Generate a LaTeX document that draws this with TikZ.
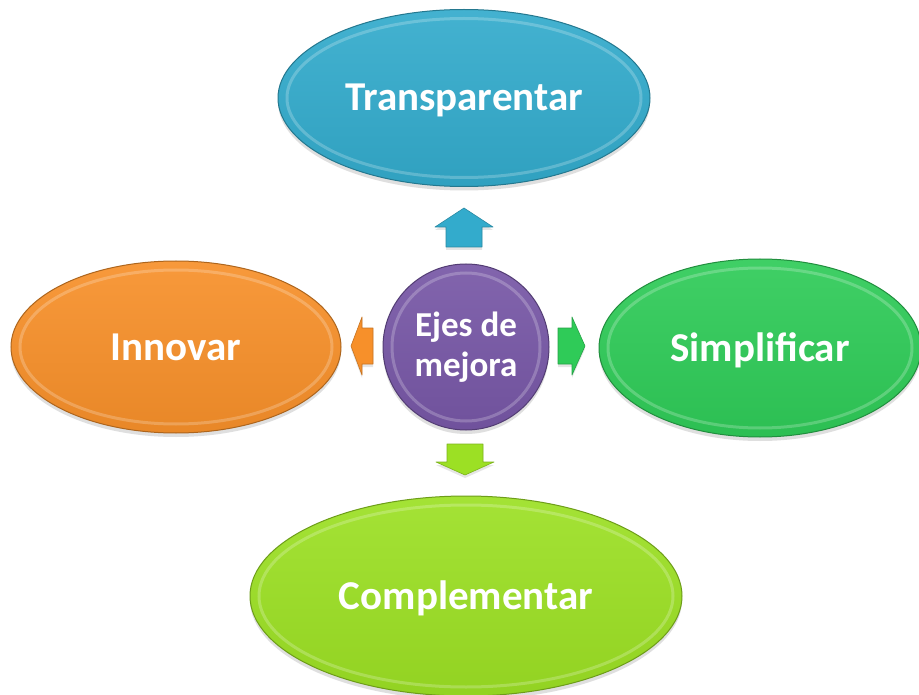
\documentclass[tikz,border=0pt]{standalone}
\usepackage{fontspec}
\setmainfont{Carlito}
\usetikzlibrary{shapes.geometric,shadows,calc}

\definecolor{azul}{HTML}{33ABCC}
\definecolor{naranja}{HTML}{F7902A}
\definecolor{verde}{HTML}{2FCB58}
\definecolor{lima}{HTML}{9CE024}
\definecolor{morado}{HTML}{7757A6}

% block arrow: x, y, angle, length, head length, colour
\newcommand{\flecha}[6]{\draw[#6!80!black, fill=#6, line width=0.6pt, line join=round,
        shift={(#1,#2)}, rotate=#3, drop shadow={opacity=0.2, shadow xshift=0pt, shadow yshift=-3pt}]
        (#4/2,0) -- (#4/2-#5,29) -- (#4/2-#5,18) -- (-#4/2,18) -- (-#4/2,-18)
        -- (#4/2-#5,-18) -- (#4/2-#5,-29) -- cycle;}

\tikzset{
  bevel/.style={path picture={
      \draw[white, opacity=0.22, line width=3pt]
        let \p1=(path picture bounding box.north east), \p2=(path picture bounding box.center)
        in (\p2) ellipse [x radius={\x1-\x2-9pt}, y radius={\y1-\y2-9pt}];}},
  eje/.style={ellipse, inner sep=0pt, line width=1pt, draw=#1!70!black,
      top color=#1!92!white, bottom color=#1!94!black, bevel, text=white,
      font=\bfseries\fontsize{41}{41}\selectfont, text height=26pt, text depth=0pt,
      drop shadow={opacity=0.25, shadow xshift=0pt, shadow yshift=-4pt}},
}

\begin{document}
\begin{tikzpicture}[x=1pt, y=-1pt]
    \fill[white] (0,0) rectangle (919,695);
    \useasboundingbox (0,0) rectangle (919,695);

    \node[eje=azul, minimum width=372pt, minimum height=177pt] (transp) at (464,98) {Transparentar};
    \node[eje=naranja, minimum width=330pt, minimum height=172pt] (innov) at (176,347) {Innovar};
    \node[eje=verde, minimum width=322pt, minimum height=178pt] (simpl) at (760,348) {Simplificar};
    \node[eje=lima, minimum width=432pt, minimum height=200pt] (compl) at (466,596) {Complementar};

    \node[eje=morado, circle, minimum size=166pt, align=center, text height=, text depth=,
          font=\bfseries\fontsize{35}{40}\selectfont] (ejes) at (466,347) {Ejes de\\mejora};

    \flecha{464}{227.5}{90}{39}{19}{azul}
    \flecha{362}{346}{180}{22}{11}{naranja}
    \flecha{571.5}{346}{0}{27}{13}{verde}
    \flecha{465}{459.5}{-90}{31}{13}{lima}
\end{tikzpicture}
\end{document}
